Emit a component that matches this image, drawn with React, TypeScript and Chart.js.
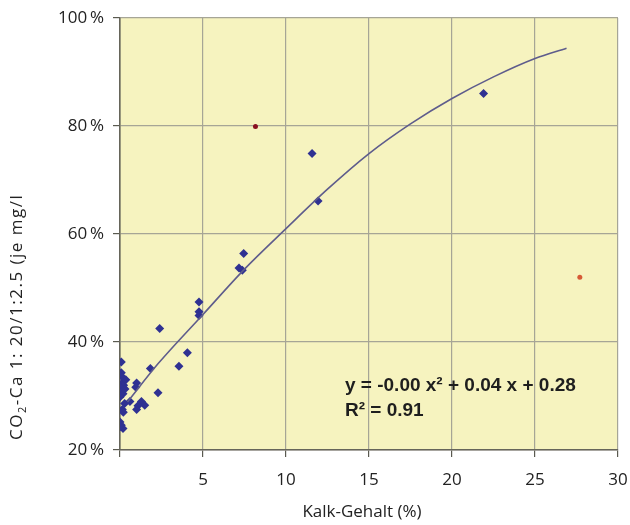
import React, { useEffect, useRef } from 'react';
import { Chart, registerables } from 'chart.js';

Chart.register(...registerables);

// Measured samples (Kalk-Gehalt %, CO2-Ca ratio %)
const blueX = [21.9, 11.57, 11.93, 7.45, 7.17, 7.37, 4.76, 4.76, 4.76, 2.39, 4.06, 3.55, 1.83, 2.29, 1.0, 0.95, 1.29, 1.49, 1.08, 1.0, 0.6, 0.08, 0.08, 0.14, 0.08, 0.22, 0.0, 0.0, 0.18, 0.0, 0.28, 0.14, 0.2, 0.0, 0.08, 0.18, 0.0, 0.3, 0.35];
const blueY = [86.0, 74.9, 66.1, 56.4, 53.7, 53.3, 47.4, 45.6, 44.9, 42.5, 38.0, 35.5, 35.1, 30.6, 32.4, 31.6, 29.0, 28.3, 28.2, 27.5, 29.0, 36.3, 34.3, 33.5, 32.3, 32.0, 31.6, 30.7, 30.4, 29.8, 28.6, 27.5, 27.0, 25.2, 24.6, 24.0, 24.3, 31.3, 33.0];

// Outliers (red dots)
const redX = [8.16, 27.7];
const redY = [79.9, 52.0];
const redColors = ['#8a1020', '#d65a36'];

// Polynomial trend line
const trendX = [0.45, 2.3, 5, 7.5, 10, 12.5, 15, 17.5, 20, 22.5, 25, 26.9];
const trendY = [28.9, 36.0, 45.1, 53.5, 61.0, 68.3, 74.9, 80.4, 85.1, 89.1, 92.5, 94.4];

const xTickValues = [0, 5, 10, 15, 20, 25, 30];
const yTickValues = [20, 40, 60, 80, 100];

const xTitle = 'Kalk-Gehalt (%)';
const yTitlePre = 'CO';
const yTitleSub = '2';
const yTitlePost = '-Ca 1: 20/1:2.5 (je mg/l';
const equationText = 'y = -0.00 x\u00B2 + 0.04 x + 0.28';
const r2Text = 'R\u00B2 = 0.91';

const FONT = '"Open Sans", "Noto Sans", sans-serif';

export default function App() {
  const ref = useRef<HTMLCanvasElement | null>(null);

  useEffect(() => {
    if (!ref.current) return;

    const bgPlugin = {
      id: 'plotBg',
      beforeDraw(chart: any) {
        const { ctx, chartArea } = chart;
        ctx.save();
        ctx.fillStyle = '#f6f3bf';
        ctx.fillRect(chartArea.left, chartArea.top, chartArea.right - chartArea.left, chartArea.bottom - chartArea.top);
        ctx.restore();
      },
    };

    const textPlugin = {
      id: 'texts',
      afterDraw(chart: any) {
        const { ctx } = chart;
        ctx.save();
        ctx.fillStyle = '#222222';
        ctx.textBaseline = 'middle';
        // x title
        ctx.font = `17px ${FONT}`;
        ctx.textAlign = 'center';
        ctx.fillText(xTitle, 362, 512);
        // y title (rotated)
        ctx.translate(17, 440);
        ctx.rotate(-Math.PI / 2);
        ctx.textAlign = 'left';
        (ctx as any).letterSpacing = '1.5px';
        ctx.font = `17px ${FONT}`;
        ctx.fillText(yTitlePre, 0, 0);
        const w1 = ctx.measureText(yTitlePre).width;
        ctx.font = `11px ${FONT}`;
        ctx.fillText(yTitleSub, w1, 6);
        const w2 = ctx.measureText(yTitleSub).width;
        ctx.font = `17px ${FONT}`;
        ctx.fillText(yTitlePost, w1 + w2, 0);
        (ctx as any).letterSpacing = '0px';
        ctx.restore();

        // equation
        ctx.save();
        ctx.fillStyle = '#1e1e1e';
        ctx.textBaseline = 'middle';
        ctx.textAlign = 'left';
        ctx.font = 'bold 19px "Liberation Sans", Arial, sans-serif';
        ctx.fillText(equationText, 345, 386);
        ctx.fillText(r2Text, 345, 411);
        ctx.restore();
      },
    };

    const chart = new Chart(ref.current, {
      type: 'scatter',
      data: {
        datasets: [
          {
            type: 'line',
            label: 'Trend',
            data: trendX.map((x, i) => ({ x, y: trendY[i] })),
            borderColor: '#5e5c8c',
            borderWidth: 1.6,
            pointRadius: 0,
            fill: false,
            cubicInterpolationMode: 'monotone',
            order: 0,
          } as any,
          {
            label: 'Proben',
            data: blueX.map((x, i) => ({ x, y: blueY[i] })),
            pointStyle: 'rectRot',
            pointRadius: 4.5,
            backgroundColor: '#2f3192',
            borderColor: '#2f3192',
            borderWidth: 0,
            order: 1,
          },
          {
            label: 'Ausreißer',
            data: redX.map((x, i) => ({ x, y: redY[i] })),
            pointStyle: 'circle',
            pointRadius: 2.5,
            backgroundColor: redColors,
            borderColor: redColors,
            borderWidth: 0,
            order: 1,
          },
        ],
      },
      options: {
        animation: false,
        responsive: false,
        layout: { padding: { left: 0, right: 12, top: 18, bottom: 0 } },
        plugins: {
          legend: { display: false },
          tooltip: { enabled: false },
        },
        scales: {
          x: {
            type: 'linear',
            min: 0,
            max: 30,
            afterBuildTicks: (scale: any) => {
              scale.ticks = xTickValues.map((v) => ({ value: v }));
            },
            afterFit: (scale: any) => {
              scale.height = 75;
              scale.paddingLeft = 0;
              scale.paddingRight = 0;
            },
            ticks: {
              color: '#222222',
              font: { family: FONT, size: 17 },
              padding: 13,
              maxRotation: 0,
              callback: (v: any) => (v === 0 ? '' : String(v)),
            },
            grid: {
              color: '#a6a596',
              lineWidth: 1.2,
              tickColor: '#5a5a50',
              tickLength: 7,
            },
            border: { display: true, color: '#66655a', width: 1.6 },
          },
          y: {
            type: 'linear',
            min: 20,
            max: 100,
            afterBuildTicks: (scale: any) => {
              scale.ticks = yTickValues.map((v) => ({ value: v }));
            },
            afterFit: (scale: any) => {
              scale.width = 120;
              scale.paddingTop = 0;
              scale.paddingBottom = 0;
            },
            ticks: {
              color: '#222222',
              font: { family: FONT, size: 17 },
              padding: 9,
              callback: (v: any) => `${v}\u2009%`,
            },
            grid: {
              color: '#a6a596',
              lineWidth: 1.2,
              tickColor: '#5a5a50',
              tickLength: 7,
            },
            border: { display: true, color: '#66655a', width: 1.6 },
          },
        },
      },
      plugins: [bgPlugin, textPlugin],
    });

    return () => chart.destroy();
  }, []);

  return (
    <div style={{ position: 'fixed', left: 0, top: 0, width: 630, height: 525, background: '#ffffff' }}>
      <canvas ref={ref} width={630} height={525} style={{ display: 'block' }} />
    </div>
  );
}
